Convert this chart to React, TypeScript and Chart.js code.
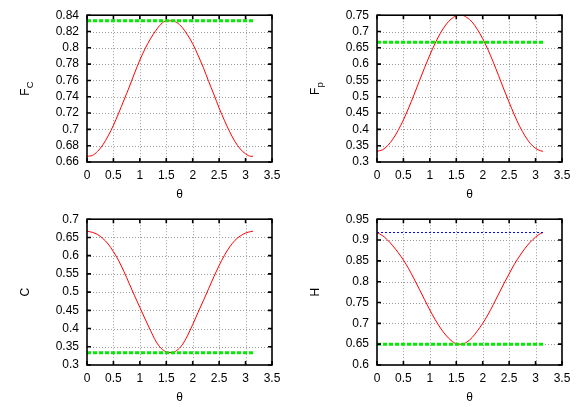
import React, { useEffect, useRef } from "react";
import { Chart, registerables } from "chart.js";

Chart.register(...registerables);

// ---- data ----
const theta = [0, 0.1, 0.2, 0.3, 0.4, 0.5, 0.6, 0.7, 0.8, 0.9, 1.0, 1.1, 1.2, 1.3, 1.4, 1.5, 1.6, 1.7, 1.8, 1.9, 2.0, 2.1, 2.2, 2.3, 2.4, 2.5, 2.6, 2.7, 2.8, 2.9, 3.0, 3.1, 3.14];

const fcValues = [0.667, 0.668, 0.673, 0.681, 0.692, 0.705, 0.72, 0.736, 0.752, 0.769, 0.785, 0.799, 0.811, 0.821, 0.829, 0.833, 0.833, 0.831, 0.825, 0.816, 0.805, 0.791, 0.776, 0.759, 0.743, 0.726, 0.711, 0.697, 0.685, 0.676, 0.67, 0.667, 0.667];
const fpValues = [0.333, 0.337, 0.35, 0.37, 0.397, 0.429, 0.466, 0.506, 0.548, 0.589, 0.628, 0.664, 0.695, 0.72, 0.738, 0.748, 0.75, 0.743, 0.729, 0.706, 0.678, 0.644, 0.606, 0.565, 0.523, 0.483, 0.444, 0.409, 0.38, 0.357, 0.342, 0.334, 0.333];
const cValues = [0.667, 0.664, 0.658, 0.647, 0.632, 0.611, 0.586, 0.556, 0.523, 0.49, 0.458, 0.426, 0.395, 0.366, 0.346, 0.336, 0.334, 0.34, 0.355, 0.38, 0.411, 0.444, 0.476, 0.509, 0.542, 0.573, 0.601, 0.624, 0.642, 0.654, 0.662, 0.666, 0.667];
const hValues = [0.918, 0.911, 0.9, 0.886, 0.87, 0.852, 0.831, 0.807, 0.782, 0.757, 0.732, 0.709, 0.689, 0.672, 0.659, 0.651, 0.65, 0.655, 0.666, 0.682, 0.7, 0.721, 0.745, 0.77, 0.795, 0.819, 0.842, 0.862, 0.88, 0.895, 0.907, 0.916, 0.918];

const fcLevel = 0.8333;
const fpLevel = 0.6667;
const cLevel = 0.3333;
const hLevel = 0.65;
const hUpperLevel = 0.918;

const thetaTicks = [0, 0.5, 1, 1.5, 2, 2.5, 3, 3.5];
const fcTicks = [0.66, 0.68, 0.7, 0.72, 0.74, 0.76, 0.78, 0.8, 0.82, 0.84];
const fpTicks = [0.3, 0.35, 0.4, 0.45, 0.5, 0.55, 0.6, 0.65, 0.7, 0.75];
const cTicks = [0.3, 0.35, 0.4, 0.45, 0.5, 0.55, 0.6, 0.65, 0.7];
const hTicks = [0.6, 0.65, 0.7, 0.75, 0.8, 0.85, 0.9, 0.95];

const FONT = "'Liberation Sans', Arial, Helvetica, sans-serif";

type PanelDef = {
  left: number;
  top: number;
  width: number;
  height: number;
  values: number[];
  yTicks: number[];
  level: number;
  upper?: number;
  title: string;
  sub?: string;
};

const panels: PanelDef[] = [
  { left: 0, top: 0, width: 290, height: 204, values: fcValues, yTicks: fcTicks, level: fcLevel, title: "F", sub: "C" },
  { left: 290, top: 0, width: 291, height: 204, values: fpValues, yTicks: fpTicks, level: fpLevel, title: "F", sub: "p" },
  { left: 0, top: 204, width: 290, height: 203, values: cValues, yTicks: cTicks, level: cLevel, title: "C" },
  { left: 290, top: 204, width: 291, height: 203, values: hValues, yTicks: hTicks, level: hLevel, upper: hUpperLevel, title: "H" },
];

const levelLine = (v: number) => [
  { x: theta[0], y: v },
  { x: theta[theta.length - 1], y: v },
];

const gnuFrame = {
  id: "gnuFrame",
  beforeDatasetsDraw(chart: any) {
    const { ctx, chartArea: a, scales } = chart;
    const xs = scales.x;
    const ys = scales.y;
    ctx.save();
    ctx.strokeStyle = "#9a9a9a";
    ctx.lineWidth = 1;
    ctx.setLineDash([1, 2]);
    xs.ticks.forEach((t: any) => {
      const p = Math.round(xs.getPixelForValue(t.value)) + 0.5;
      if (p <= a.left + 1 || p >= a.right - 1) return;
      ctx.beginPath();
      ctx.moveTo(p, a.top);
      ctx.lineTo(p, a.bottom);
      ctx.stroke();
    });
    ys.ticks.forEach((t: any) => {
      const p = Math.round(ys.getPixelForValue(t.value)) + 0.5;
      if (p <= a.top + 1 || p >= a.bottom - 1) return;
      ctx.beginPath();
      ctx.moveTo(a.left, p);
      ctx.lineTo(a.right, p);
      ctx.stroke();
    });
    ctx.restore();
  },
  afterDatasetsDraw(chart: any, _args: any, opts: any) {
    const { ctx, chartArea: a, scales } = chart;
    const xs = scales.x;
    const ys = scales.y;
    ctx.save();
    ctx.setLineDash([]);
    ctx.strokeStyle = "#000";
    ctx.lineWidth = 1.6;
    ctx.strokeRect(a.left, a.top, a.right - a.left, a.bottom - a.top);
    const tl = 4;
    ctx.beginPath();
    xs.ticks.forEach((t: any) => {
      const p = xs.getPixelForValue(t.value);
      ctx.moveTo(p, a.bottom);
      ctx.lineTo(p, a.bottom - tl);
      ctx.moveTo(p, a.top);
      ctx.lineTo(p, a.top + tl);
    });
    ys.ticks.forEach((t: any) => {
      const p = ys.getPixelForValue(t.value);
      ctx.moveTo(a.left, p);
      ctx.lineTo(a.left + tl, p);
      ctx.moveTo(a.right, p);
      ctx.lineTo(a.right - tl, p);
    });
    ctx.stroke();

    // x title
    ctx.fillStyle = "#000";
    ctx.font = `12px ${FONT}`;
    ctx.textAlign = "center";
    ctx.textBaseline = "alphabetic";
    ctx.fillText("θ", (a.left + a.right) / 2, a.bottom + 36);

    // y title (rotated, with optional subscript)
    const main: string = opts.title;
    const sub: string | undefined = opts.sub;
    ctx.font = `12px ${FONT}`;
    const wMain = ctx.measureText(main).width;
    ctx.font = `9.5px ${FONT}`;
    const wSub = sub ? ctx.measureText(sub).width : 0;
    const total = wMain + wSub;
    ctx.translate(a.left - 58, (a.top + a.bottom) / 2);
    ctx.rotate(-Math.PI / 2);
    ctx.textAlign = "left";
    ctx.font = `12px ${FONT}`;
    ctx.fillText(main, -total / 2, 0);
    if (sub) {
      ctx.font = `9.5px ${FONT}`;
      ctx.fillText(sub, -total / 2 + wMain, 3.5);
    }
    ctx.restore();
  },
};

function Panel({ def }: { def: PanelDef }) {
  const ref = useRef<HTMLCanvasElement | null>(null);
  useEffect(() => {
    if (!ref.current) return;
    const datasets: any[] = [
      {
        data: levelLine(def.level),
        borderColor: "#00ee00",
        borderWidth: 3,
        borderDash: [4, 2],
        pointRadius: 0,
        fill: false,
      },
    ];
    if (def.upper !== undefined) {
      datasets.push({
        data: levelLine(def.upper),
        borderColor: "#0000ff",
        borderWidth: 1,
        borderDash: [2, 2],
        pointRadius: 0,
        fill: false,
      });
    }
    datasets.push({
      data: theta.map((t, i) => ({ x: t, y: def.values[i] })),
      borderColor: "#ff0000",
      borderWidth: 1,
      pointRadius: 0,
      cubicInterpolationMode: "monotone",
      fill: false,
    });
    const yTicks = def.yTicks;
    const chart = new Chart(ref.current, {
      type: "line",
      data: { datasets },
      plugins: [gnuFrame],
      options: {
        animation: false,
        responsive: false,
        maintainAspectRatio: false,
        devicePixelRatio: 1,
        layout: { padding: { left: 0, top: 15, right: def.width - 272, bottom: 0 } },
        plugins: {
          legend: { display: false },
          tooltip: { enabled: false },
          gnuFrame: { title: def.title, sub: def.sub },
        } as any,
        scales: {
          x: {
            type: "linear",
            min: thetaTicks[0],
            max: thetaTicks[thetaTicks.length - 1],
            grid: { display: false, drawTicks: false },
            border: { display: false },
            ticks: {
              autoSkip: false,
              maxRotation: 0,
              padding: 6,
              color: "#000",
              font: { family: FONT, size: 12 },
              callback: (v: any) => String(v),
            },
            afterBuildTicks: (s: any) => {
              s.ticks = thetaTicks.map((v) => ({ value: v }));
            },
            afterFit: (s: any) => {
              s.height = 42;
            },
          },
          y: {
            type: "linear",
            min: yTicks[0],
            max: yTicks[yTicks.length - 1],
            grid: { display: false, drawTicks: false },
            border: { display: false },
            ticks: {
              autoSkip: false,
              padding: 8,
              color: "#000",
              font: { family: FONT, size: 12 },
              callback: (v: any) => String(v),
            },
            afterBuildTicks: (s: any) => {
              s.ticks = yTicks.map((v) => ({ value: v }));
            },
            afterFit: (s: any) => {
              s.width = 87;
            },
          },
        },
      } as any,
    });
    return () => chart.destroy();
  }, [def]);
  return (
    <canvas
      ref={ref}
      width={def.width}
      height={def.height}
      style={{ position: "absolute", left: def.left, top: def.top, width: def.width, height: def.height }}
    />
  );
}

export default function App() {
  return (
    <div style={{ position: "absolute", left: 0, top: 0, width: 581, height: 407, background: "#fff" }}>
      {panels.map((p, i) => (
        <Panel key={i} def={p} />
      ))}
    </div>
  );
}
